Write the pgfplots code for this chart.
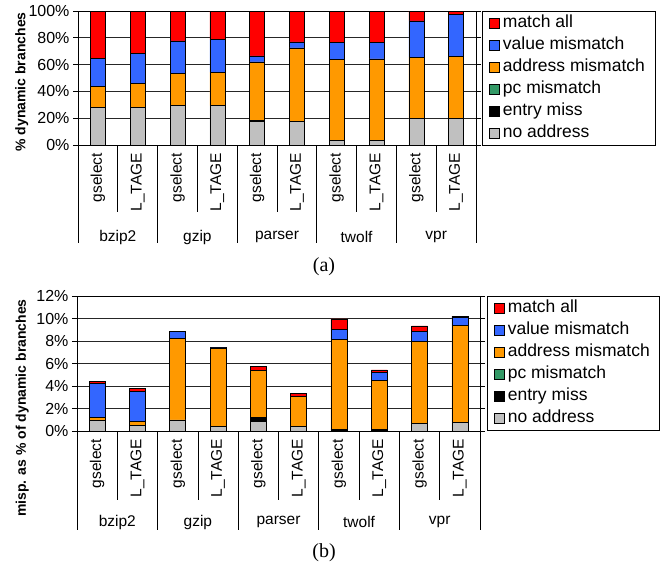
\documentclass[border=0pt]{standalone}
\usepackage{fontspec}
\setmainfont{Liberation Sans}
\newfontfamily\seriffont{Liberation Serif}
\usepackage{pgfplots}
\usepackage{pgfplotstable}
\pgfplotsset{compat=1.18}
\definecolor{cred}{HTML}{FF0000}
\definecolor{cblue}{HTML}{3366FF}
\definecolor{corange}{HTML}{FF9900}
\definecolor{cgreen}{HTML}{339966}
\definecolor{cgray}{HTML}{C0C0C0}

\pgfplotstableread{
x gray entry pc addr val match
1 28.0 0   0 15.9 20.6 35.5
2 28.0 0   0 17.9 22.3 31.8
3 29.3 0   0 24.0 24.4 22.3
4 29.3 0   0 25.0 24.4 21.3
5 17.4 0.7 0 43.9 4.5  33.5
6 17.4 0   0 55.1 4.4  23.1
7 3.5  0   0 60.3 12.6 23.6
8 3.5  0   0 60.8 12.1 23.6
9 20.1 0   0 45.4 27.1 7.4
10 20.1 0  0 45.9 31.3 2.7
}\topdata

\pgfplotstableread{
x gray entry pc addr val match
1 0.95 0    0 0.23 3.05 0.18
2 0.53 0    0 0.30 2.69 0.30
3 0.98 0    0 7.24 0.60 0.03
4 0.44 0    0 6.90 0.05 0.07
5 0.83 0.41 0 4.12 0.05 0.33
6 0.44 0    0 2.61 0.05 0.21
7 0.05 0.10 0 7.99 0.88 0.95
8 0.05 0.10 0 4.35 0.71 0.23
9 0.65 0    0 7.34 0.86 0.50
10 0.74 0   0 8.67 0.71 0.06
}\botdata

\pgfplotsset{
  mystyle/.style={
    scale only axis,
    ybar stacked,
    xmin=0.5, xmax=10.5,
    ymin=0,
    clip=false,
    axis line style={black, line width=0.7pt},
    ymajorgrids,
    grid style={black!85, line width=0.7pt},
    xtick={1,...,10},
    xticklabels={gselect,L\_TAGE,gselect,L\_TAGE,gselect,L\_TAGE,gselect,L\_TAGE,gselect,L\_TAGE},
    xtick style={draw=none},
    xticklabel style={rotate=90, anchor=east, font=\fontsize{15.5}{18}\selectfont, inner sep=1pt, xshift=-2pt},
    ytick style={black, line width=0.7pt},
    tick align=outside,
    major tick length=5pt,
    yticklabel style={font=\fontsize{16}{19}\selectfont},
    /pgf/number format/assume math mode=true,
    ylabel style={font=\bfseries\fontsize{14}{17}\selectfont, anchor=center, rotate=0},
    every axis plot/.append style={draw=black, line width=0.6pt},
    reverse legend,
    legend image code/.code={\draw[#1, draw=black, line width=0.6pt] (0pt,-5pt) rectangle (10pt,5pt);},
    legend style={draw=black, line width=0.7pt, anchor=north west, inner ysep=1pt, inner xsep=7pt,
      font=\fontsize{17.5}{20}\selectfont,
      nodes={text height=12pt, text depth=4pt, inner sep=3pt},
      legend cell align=left, row sep=0pt},
  }
}

\begin{document}
\begin{tikzpicture}
\path[use as bounding box] (0,0) rectangle (662pt,566pt);

% ---------- top chart ----------
\begin{axis}[mystyle,
  at={(78pt,421pt)}, anchor=south west,
  width=398pt, height=134pt,
  bar width=15pt,
  ymax=100, ytick={0,20,...,100},
  yticklabel={\pgfmathprintnumber{\tick}\%},
  ylabel={\% dynamic branches},
  ylabel style={at={(axis description cs:-0.141,0.47)}},
  legend style={at={(axis description cs:1.015,1)}},
]
\addplot[fill=cgray] table[x=x,y=gray] {\topdata};
\addplot[fill=black] table[x=x,y=entry] {\topdata};
\addplot[fill=cgreen] table[x=x,y=pc] {\topdata};
\addplot[fill=corange] table[x=x,y=addr] {\topdata};
\addplot[fill=cblue] table[x=x,y=val] {\topdata};
\addplot[fill=cred] table[x=x,y=match] {\topdata};
\legend{no address,entry miss,pc mismatch,address mismatch,value mismatch,match all}
\pgfplotsinvokeforeach{0.5,2.5,4.5,6.5,8.5,10.5}{
  \draw[black, line width=0.7pt] (axis cs:#1,0) -- ++(0pt,-98pt);
}
\pgfplotsinvokeforeach{1.5,3.5,5.5,7.5,9.5}{
  \draw[black, line width=0.7pt] (axis cs:#1,0) -- ++(0pt,-67pt);
}
\node[font=\fontsize{15.5}{18}\selectfont] at ([yshift=-92pt]axis cs:1.5,0) {bzip2};
\node[font=\fontsize{15.5}{18}\selectfont] at ([yshift=-92pt]axis cs:3.5,0) {gzip};
\node[font=\fontsize{15.5}{18}\selectfont] at ([yshift=-92pt]axis cs:5.5,0) {parser};
\node[font=\fontsize{15.5}{18}\selectfont] at ([yshift=-92pt]axis cs:7.5,0) {twolf};
\node[font=\fontsize{15.5}{18}\selectfont] at ([yshift=-92pt]axis cs:9.5,0) {vpr};
\end{axis}

% ---------- bottom chart ----------
\begin{axis}[mystyle,
  at={(77pt,135pt)}, anchor=south west,
  width=403pt, height=135pt,
  bar width=16pt,
  ymax=12, ytick={0,2,...,12},
  yticklabel={\pgfmathprintnumber{\tick}\%},
  ylabel={misp. as \% of dynamic branches},
  ylabel style={at={(axis description cs:-0.136,0.17)}},
  legend style={at={(axis description cs:1.017,1)}},
]
\addplot[fill=cgray] table[x=x,y=gray] {\botdata};
\addplot[fill=black] table[x=x,y=entry] {\botdata};
\addplot[fill=cgreen] table[x=x,y=pc] {\botdata};
\addplot[fill=corange] table[x=x,y=addr] {\botdata};
\addplot[fill=cblue] table[x=x,y=val] {\botdata};
\addplot[fill=cred] table[x=x,y=match] {\botdata};
\legend{no address,entry miss,pc mismatch,address mismatch,value mismatch,match all}
\pgfplotsinvokeforeach{0.5,2.5,4.5,6.5,8.5,10.5}{
  \draw[black, line width=0.7pt] (axis cs:#1,0) -- ++(0pt,-99pt);
}
\pgfplotsinvokeforeach{1.5,3.5,5.5,7.5,9.5}{
  \draw[black, line width=0.7pt] (axis cs:#1,0) -- ++(0pt,-69pt);
}
\node[font=\fontsize{15.5}{18}\selectfont] at ([yshift=-91pt]axis cs:1.5,0) {bzip2};
\node[font=\fontsize{15.5}{18}\selectfont] at ([yshift=-91pt]axis cs:3.5,0) {gzip};
\node[font=\fontsize{15.5}{18}\selectfont] at ([yshift=-91pt]axis cs:5.5,0) {parser};
\node[font=\fontsize{15.5}{18}\selectfont] at ([yshift=-91pt]axis cs:7.5,0) {twolf};
\node[font=\fontsize{15.5}{18}\selectfont] at ([yshift=-91pt]axis cs:9.5,0) {vpr};
\end{axis}

\node[font=\seriffont\fontsize{20}{23}\selectfont] at (324pt,299pt) {(a)};
\node[font=\seriffont\fontsize{20}{23}\selectfont] at (324pt,13pt) {(b)};
\end{tikzpicture}
\end{document}
